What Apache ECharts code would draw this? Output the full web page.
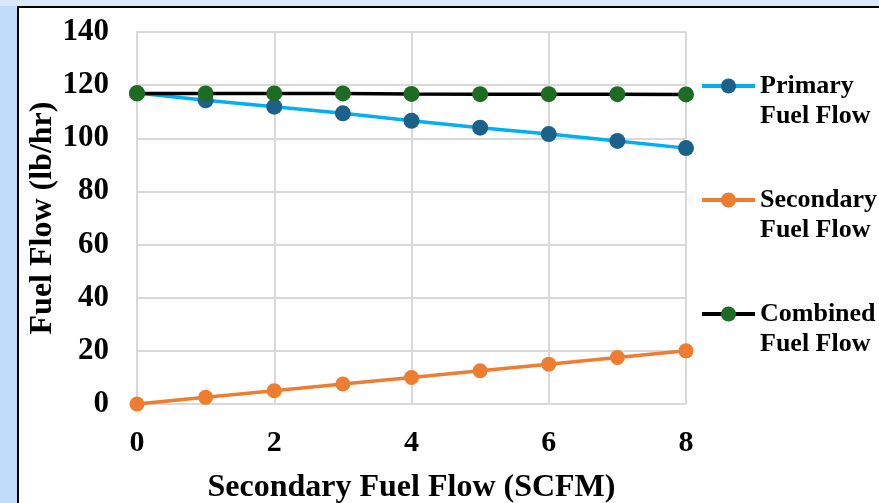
<!DOCTYPE html>
<html>
<head>
<meta charset="utf-8">
<title>Fuel Flow vs Secondary Fuel Flow</title>
<script src="https://cdn.jsdelivr.net/npm/echarts@6/dist/echarts.min.js"></script>
<style>
  html, body { margin: 0; padding: 0; }
  body {
    width: 879px; height: 503px; overflow: hidden; position: relative;
    background: linear-gradient(to bottom, #d8e9fb 0px, #cfe3fa 100%);
  }
  #side { position: absolute; left: 0; top: 6px; width: 17px; height: 497px; background: #c1dcfa; }
  #panel {
    position: absolute; left: 17px; top: 6px; right: 0; bottom: 0;
    background: #ffffff; border-left: 2px solid #000; border-top: 2px solid #000;
  }
  #chart { position: absolute; left: 0; top: 0; width: 879px; height: 503px; }
</style>
</head>
<body>
<div id="side"></div>
<div id="panel"></div>
<div id="chart"></div>
<script>
// Secondary fuel flow setpoints (SCFM)
const scfm = [0, 1, 2, 3, 4, 5, 6, 7, 8];
// Fuel flows (lb/hr)
const primaryFlow   = [117.0, 114.3, 111.9, 109.4, 106.6, 104.0, 101.6, 99.0, 96.3];
const secondaryFlow = [0, 2.5, 5.0, 7.5, 10.0, 12.5, 15.0, 17.5, 20.0];
const combinedFlow  = [116.9, 116.9, 116.9, 116.9, 116.7, 116.6, 116.6, 116.6, 116.5];

const seriesNames = ['Primary\nFuel Flow', 'Secondary\nFuel Flow', 'Combined\nFuel Flow'];

const font = '"Liberation Serif", "DejaVu Serif", serif';

function pairs(ys) { return scfm.map((x, i) => [x, ys[i]]); }

const chart = echarts.init(document.getElementById('chart'), null, { renderer: 'canvas' });

chart.setOption({
  backgroundColor: 'transparent',
  animation: false,
  grid: { left: 137, right: 193, top: 32, bottom: 99, outerBoundsMode: 'none', containLabel: false },
  xAxis: {
    type: 'value', min: 0, max: 8, interval: 2,
    name: 'Secondary Fuel Flow (SCFM)', nameLocation: 'middle', nameGap: 68,
    nameMoveOverlap: false,
    nameTextStyle: { fontFamily: font, fontWeight: 'bold', fontSize: 32, color: '#000' },
    axisLine: { show: true, lineStyle: { color: '#d9d9d9', width: 2 } },
    axisTick: { show: false },
    axisLabel: { fontFamily: font, fontWeight: 'bold', fontSize: 30, color: '#000', margin: 24 },
    splitLine: { show: true, lineStyle: { color: '#d9d9d9', width: 2 } }
  },
  yAxis: {
    type: 'value', min: 0, max: 140, interval: 20,
    name: 'Fuel Flow (lb/hr)', nameLocation: 'middle', nameGap: 78, nameRotate: 90,
    nameMoveOverlap: false,
    nameTextStyle: { fontFamily: font, fontWeight: 'bold', fontSize: 32, color: '#000' },
    axisLine: { show: true, lineStyle: { color: '#d9d9d9', width: 2 } },
    axisTick: { show: false },
    axisLabel: { fontFamily: font, fontWeight: 'bold', fontSize: 31, color: '#000', margin: 28 },
    splitLine: { show: true, lineStyle: { color: '#d9d9d9', width: 2 } }
  },
  legend: {
    orient: 'vertical', left: 700, top: 41, padding: 0, itemGap: 24,
    itemWidth: 53, itemHeight: 19,
    data: seriesNames,
    // leading blank line keeps the first text line level with the marker
    formatter: name => '\n' + name,
    lineStyle: { width: 4 },
    textStyle: {
      fontFamily: font, fontWeight: 'bold', fontSize: 26, color: '#000', lineHeight: 30
    }
  },
  series: [
    {
      name: seriesNames[0], type: 'line', data: pairs(primaryFlow),
      symbol: 'circle', symbolSize: 16,
      lineStyle: { color: '#00b0f0', width: 3.5 },
      itemStyle: { color: '#1b6189' }
    },
    {
      name: seriesNames[1], type: 'line', data: pairs(secondaryFlow),
      symbol: 'circle', symbolSize: 15,
      lineStyle: { color: '#ed7d31', width: 3.5 },
      itemStyle: { color: '#ed7d31' }
    },
    {
      name: seriesNames[2], type: 'line', data: pairs(combinedFlow),
      symbol: 'circle', symbolSize: 16,
      lineStyle: { color: '#000000', width: 3.5 },
      itemStyle: { color: '#1e6b24' }
    }
  ]
});
</script>
</body>
</html>
